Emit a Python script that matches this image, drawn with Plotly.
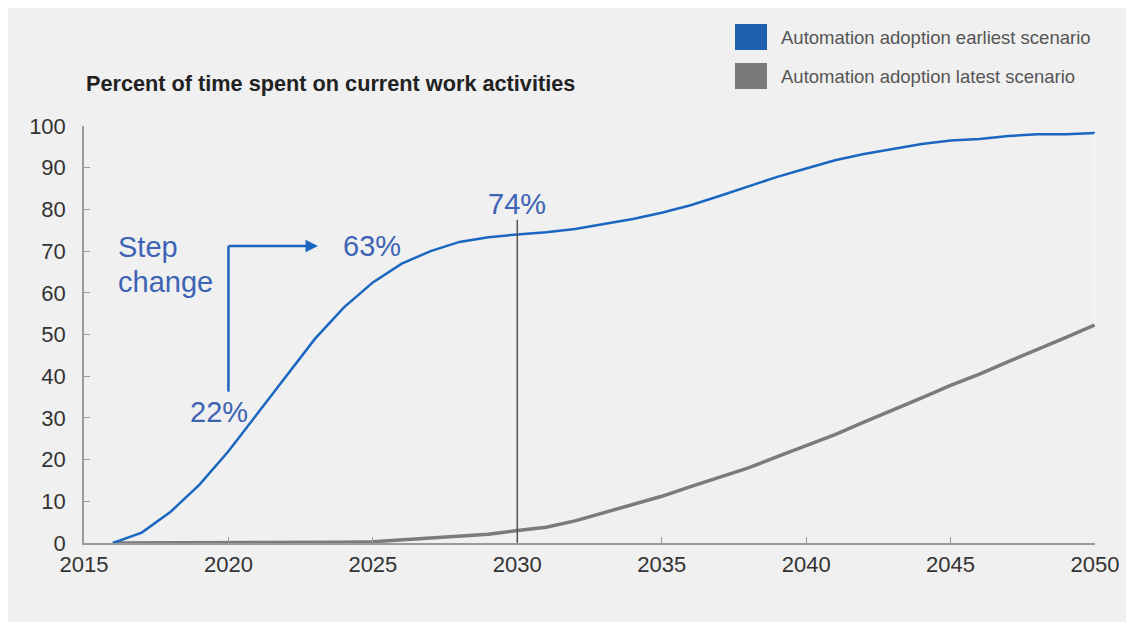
import plotly.graph_objects as go

years = list(range(2016, 2051))
earliest = [0, 2.5, 7.5, 14, 22, 31, 40, 49, 56.5, 62.5, 67, 70, 72.2, 73.3, 74,
            74.5, 75.3, 76.5, 77.7, 79.2, 81, 83.2, 85.5, 87.8, 89.8, 91.8, 93.3,
            94.5, 95.7, 96.5, 96.9, 97.6, 98, 98, 98.3]
latest = [0, 0, 0, 0, 0, 0, 0.1, 0.1, 0.2, 0.3, 0.7, 1.2, 1.6, 2.1, 3,
          3.8, 5.3, 7.2, 9.2, 11.2, 13.5, 15.8, 18, 20.7, 23.3, 26, 29,
          31.8, 34.8, 37.8, 40.5, 43.5, 46.3, 49.3, 52.3]
x_ticks = [2015, 2020, 2025, 2030, 2035, 2040, 2045, 2050]
y_ticks = list(range(0, 101, 10))
series_names = ["Automation adoption earliest scenario", "Automation adoption latest scenario"]
title_text = "Percent of time spent on current work activities"

BLUE = "#1a66c0"
ANN_BLUE = "#3d64b4"
GREY = "#7b7b7d"
FONT = "Liberation Sans, Arial, Helvetica, sans-serif"

# plot area geometry (pixels) used for paper-coordinate placement
PW, PH = 1011, 417   # plot width / height
PL, PB = 84, 543     # page x of left axis, page y of bottom axis


def px(x):
    return (x - PL) / PW


def py(y):
    return (PB - y) / PH


fig = go.Figure()
fig.add_trace(go.Scatter(x=years, y=latest, mode="lines", name=series_names[1],
                         line=dict(color=GREY, width=3.5), showlegend=False, cliponaxis=False))
fig.add_trace(go.Scatter(x=years, y=earliest, mode="lines", name=series_names[0],
                         line=dict(color=BLUE, width=2.5), showlegend=False, cliponaxis=False))

shapes = [
    dict(type="rect", xref="paper", yref="paper", x0=px(7), x1=px(1128), y0=py(622), y1=py(7),
         fillcolor="#f0f0f0", line=dict(width=0), layer="below"),
    dict(type="line", x0=2030, x1=2030, y0=0, y1=77.5, line=dict(color="#555555", width=1.5)),
    dict(type="line", x0=2050, x1=2050, y0=latest[-1], y1=earliest[-1], line=dict(color="#ffffff", width=1.2)),
    dict(type="line", x0=2020, x1=2020, y0=36.3, y1=71.2, line=dict(color=BLUE, width=2.5)),
    dict(type="rect", xref="paper", yref="paper", x0=px(735), x1=px(767), y0=py(50), y1=py(24),
         fillcolor="#1f61b0", line=dict(width=0)),
    dict(type="rect", xref="paper", yref="paper", x0=px(735), x1=px(767), y0=py(89), y1=py(63),
         fillcolor="#7a7a7c", line=dict(width=0)),
]

ann_font = dict(family=FONT, size=29, color=ANN_BLUE)
annotations = [
    dict(x=2023.1, y=71.2, ax=2019.95, ay=71.2, xref="x", yref="y", axref="x", ayref="y",
         text="", showarrow=True, arrowhead=2, arrowsize=1, arrowwidth=2.5, arrowcolor=BLUE),
    dict(x=2016.1, y=70.9, text="Step", showarrow=False, xanchor="left", yanchor="middle", font=ann_font),
    dict(x=2016.1, y=62.5, text="change", showarrow=False, xanchor="left", yanchor="middle", font=ann_font),
    dict(x=2023.9, y=71.2, text="63%", showarrow=False, xanchor="left", yanchor="middle", font=ann_font),
    dict(x=2030, y=81.3, text="74%", showarrow=False, xanchor="center", yanchor="middle", font=ann_font),
    dict(x=2019.67, y=31.3, text="22%", showarrow=False, xanchor="center", yanchor="middle", font=ann_font),
    dict(x=px(84), y=py(83), xref="paper", yref="paper", text="<b>" + title_text + "</b>",
         showarrow=False, xanchor="left", yanchor="middle", font=dict(family=FONT, size=21.7, color="#222222")),
    dict(x=px(779), y=py(37), xref="paper", yref="paper", text=series_names[0],
         showarrow=False, xanchor="left", yanchor="middle", font=dict(family=FONT, size=18.5, color="#555555")),
    dict(x=px(779), y=py(76), xref="paper", yref="paper", text=series_names[1],
         showarrow=False, xanchor="left", yanchor="middle", font=dict(family=FONT, size=18.5, color="#555555")),
]

# page body has an 8px margin, so the figure is sized/offset to compensate
fig.update_layout(
    width=1126, height=617,
    margin=dict(l=76, r=39, t=118, b=82),
    paper_bgcolor="#ffffff", plot_bgcolor="rgba(0,0,0,0)",
    font=dict(family=FONT, size=22, color="#333333"),
    shapes=shapes, annotations=annotations, showlegend=False,
)
fig.update_xaxes(range=[2015, 2050], tickvals=x_ticks, ticktext=[str(v) for v in x_ticks],
                 showgrid=False, zeroline=False, showline=True, linecolor="#9a9a9a", linewidth=1.5,
                 ticks="inside", ticklen=6, tickcolor="#9a9a9a", tickwidth=1.2,
                 tickfont=dict(family=FONT, size=22, color="#333333"), ticklabelstandoff=1)
fig.update_yaxes(range=[0, 100], tickvals=y_ticks, showgrid=False, zeroline=False,
                 showline=True, linecolor="#9a9a9a", linewidth=1.5,
                 ticks="inside", ticklen=6, tickcolor="#9a9a9a", tickwidth=1.2,
                 tickfont=dict(family=FONT, size=22, color="#333333"), ticklabelstandoff=12)

fig.write_html("out.html")
